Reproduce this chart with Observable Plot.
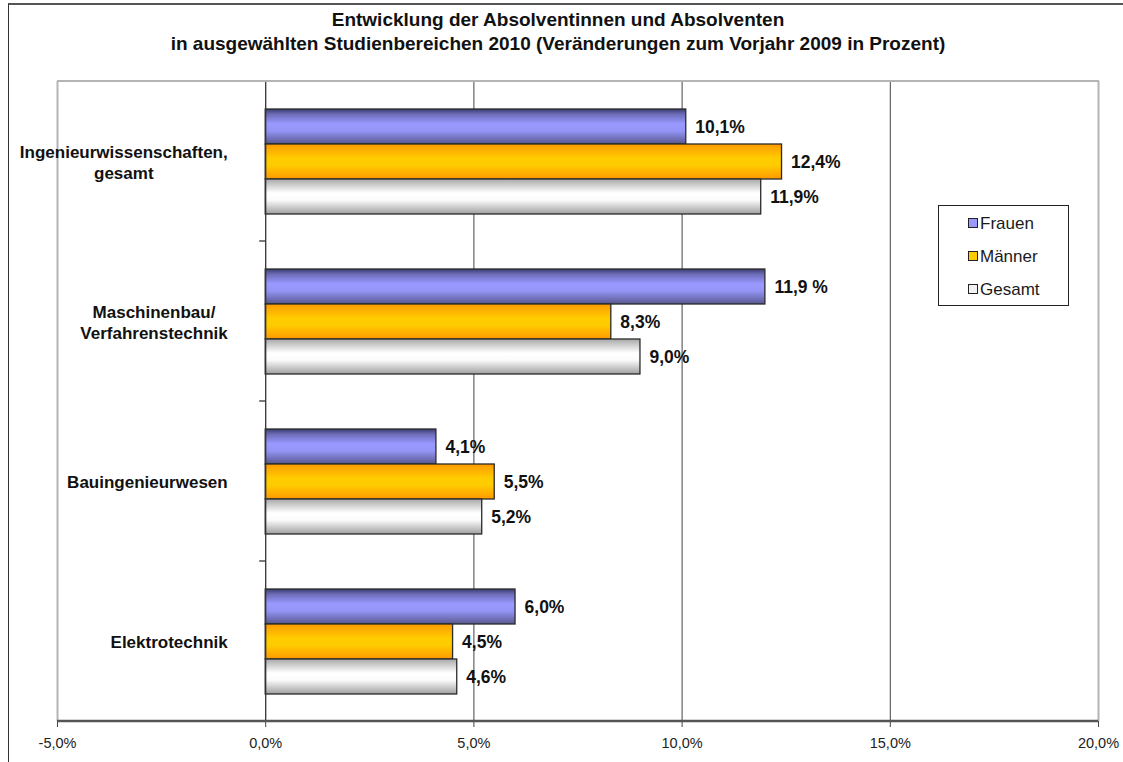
<!DOCTYPE html>
<html><head><meta charset="utf-8">
<script src="https://cdn.jsdelivr.net/npm/d3@7"></script>
<script src="https://cdn.jsdelivr.net/npm/@observablehq/plot@0.6"></script>
<style>
body{margin:0;background:#fff;font-family:"Liberation Sans",Arial,sans-serif;}
#wrap{position:relative;width:1123px;height:762px;overflow:hidden;background:#fff;}
#frame{position:absolute;left:8px;top:3px;width:1200px;height:900px;border-left:1.5px solid #333;border-top:2px solid #555;}
#title{position:absolute;top:8px;left:0;width:1116px;text-align:center;font-weight:bold;font-size:19px;line-height:24px;color:#111;}
#chart{position:absolute;left:0;top:70px;}
#legend{position:absolute;left:938px;top:205px;width:131px;height:101px;border:1px solid #222;box-sizing:border-box;background:#fff;padding-left:29px;padding-top:1px;}
#legend .item{font-size:17px;line-height:33px;height:33px;color:#1a1a1a;white-space:nowrap;}
#legend .sw{display:inline-block;width:8px;height:8px;border:1px solid #222;margin-right:2px;vertical-align:1px;}
</style>
</head><body>
<div id="wrap">
  <div id="frame"></div>
  <div id="title">Entwicklung der Absolventinnen und Absolventen<br>in ausgewählten Studienbereichen 2010 (Veränderungen zum Vorjahr 2009 in Prozent)</div>
  <div id="chart"></div>
  <div id="legend"></div>
</div>
<script>
const categories = ["Ingenieurwissenschaften,\ngesamt", "Maschinenbau/\nVerfahrenstechnik", "Bauingenieurwesen", "Elektrotechnik"];
const series = ["Frauen", "Männer", "Gesamt"];
const frauen = [10.1, 12.0, 4.1, 6.0];
const maenner = [12.4, 8.3, 5.5, 4.5];
const gesamt = [11.9, 9.0, 5.2, 4.6];
const labelsFrauen = ["10,1%", "11,9 %", "4,1%", "6,0%"];
const labelsMaenner = ["12,4%", "8,3%", "5,5%", "4,5%"];
const labelsGesamt = ["11,9%", "9,0%", "5,2%", "4,6%"];
const xTicks = [-5, 0, 5, 10, 15, 20];
const swatchColors = ["#9999ff", "#ffcc00", "#f2f2f2"];

(function () {
const values = [frauen, maenner, gesamt];
const labels = [labelsFrauen, labelsMaenner, labelsGesamt];
const data = categories.flatMap((c, i) => series.map((s, j) => ({category: c, series: s, value: values[j][i], label: labels[j][i]})));

const ctx = document.createElement("canvas").getContext("2d");
ctx.font = "bold 17px 'Liberation Sans', Arial, sans-serif";
const catMarks = categories.map(c => {
  const maxW = d3.max(c.split("\n"), t => ctx.measureText(t).width);
  return Plot.text([c], {
    fy: d => d, x: () => 0, text: d => d,
    textAnchor: "middle", dx: -(38 + maxW / 2),
    fontSize: 17, fontWeight: "bold", lineHeight: 1.24, fill: "#111"
  });
});

const fmt = d => d.toFixed(1).replace(".", ",") + "%";

const chart = Plot.plot({
  width: 1123, height: 692,
  marginLeft: 57, marginRight: 25, marginTop: 10, marginBottom: 40,
  style: {fontFamily: "'Liberation Sans', Arial, sans-serif", background: "transparent"},
  x: {domain: [-5, 20], label: null},
  fy: {domain: categories, padding: 0, axis: null},
  y: {domain: series, paddingInner: 0, paddingOuter: 0.75, axis: null},
  marks: [
    Plot.ruleX([-5, 20], {stroke: "#b4b4b4", strokeWidth: 2}),
    Plot.ruleX([5, 10, 15], {stroke: "#444", strokeWidth: 1}),
    ...series.map((s, j) => Plot.barX(data.filter(d => d.series === s), {
      fy: "category", y: "series", x: "value",
      fill: `url(#grad${j})`, stroke: "#2a2a2a", strokeWidth: 1.3
    })),
    Plot.ruleX([0], {stroke: "#333", strokeWidth: 1.3}),
    Plot.text(data, {fy: "category", y: "series", x: "value", text: "label", textAnchor: "start", dx: 9, fontSize: 17.5, fontWeight: "bold", fill: "#111"}),
    ...catMarks,
    Plot.axisX({ticks: xTicks, tickFormat: fmt, tickSize: 6, tickPadding: 10, fontSize: 14.5, stroke: "#444", fill: "#222", label: null})
  ]
});

document.getElementById("chart").appendChild(chart);

const svg = d3.select(chart);
const defs = svg.insert("defs", ":first-child");
const grads = [
  [[0, "#3c3c6e"], [0.15, "#6c6cb8"], [0.42, "#9999ff"], [0.62, "#9595f8"], [1, "#58588f"]],
  [[0, "#ff9900"], [0.4, "#ffcc00"], [0.6, "#ffcc00"], [1, "#ff9900"]],
  [[0, "#a8a8a8"], [0.4, "#ffffff"], [0.6, "#fbfbfb"], [1, "#a0a0a0"]]
];
grads.forEach((stops, j) => {
  const g = defs.append("linearGradient").attr("id", `grad${j}`).attr("x1", 0).attr("y1", 0).attr("x2", 0).attr("y2", 1);
  stops.forEach(([o, c]) => g.append("stop").attr("offset", o).attr("stop-color", c));
});

const xs = chart.scale("x"), fys = chart.scale("fy");
const yTop = fys.apply(categories[0]);
const yBottom = fys.apply(categories[categories.length - 1]) + fys.bandwidth;
const deco = svg.append("g");
deco.append("line").attr("x1", xs.apply(-5)).attr("x2", xs.apply(20) + 1).attr("y1", yTop).attr("y2", yTop).attr("stroke", "#b4b4b4").attr("stroke-width", 2);
deco.append("line").attr("x1", xs.apply(-5)).attr("x2", xs.apply(20)).attr("y1", yBottom).attr("y2", yBottom).attr("stroke", "#555").attr("stroke-width", 2.5);
categories.slice(1).forEach(c => {
  const y = fys.apply(c);
  deco.append("line").attr("x1", xs.apply(0) - 6).attr("x2", xs.apply(0)).attr("y1", y).attr("y2", y).attr("stroke", "#333").attr("stroke-width", 1.3);
});

const leg = d3.select("#legend");
series.forEach((s, j) => {
  const it = leg.append("div").attr("class", "item");
  it.append("span").attr("class", "sw").style("background", swatchColors[j]);
  it.append("span").text(s);
});
})();
</script>
</body></html>
